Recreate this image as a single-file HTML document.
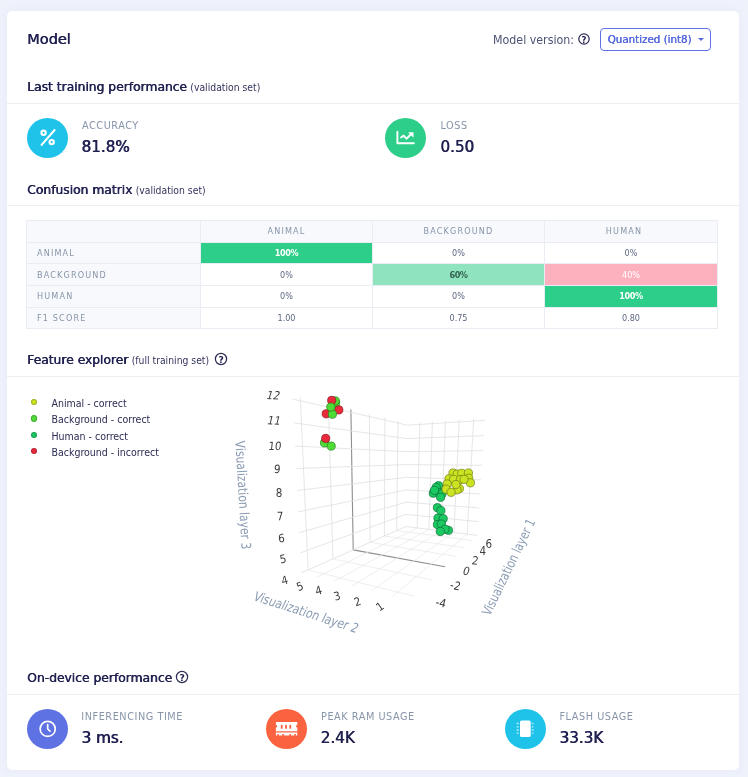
<!DOCTYPE html>
<html><head><meta charset="utf-8"><title>Model</title>
<style>
html,body{margin:0;padding:0;}
body{width:748px;height:777px;background:#eff2fb;font-family:"DejaVu Sans Condensed","Liberation Sans",sans-serif;color:#1f1f50;position:relative;overflow:hidden;}
.card{position:absolute;left:7px;top:11px;width:732px;height:759px;background:#fff;border-radius:5px;box-shadow:0 0 8px rgba(136,152,200,.08);}
.abs{position:absolute;white-space:nowrap;}
.sb{font-family:"DejaVu Sans","Liberation Sans",sans-serif;text-shadow:.55px 0 0 currentColor;}
.h1{font-size:14.2px;line-height:20px;}
.h2{}
.h2 small{font-size:10.3px;color:#33335c;}
.hr{position:absolute;left:7px;width:732px;height:1px;background:#eceef4;}
.circ{position:absolute;width:41.3px;height:40.4px;border-radius:50%;}
.lbl{color:#8795a9;letter-spacing:.55px;}
.val{font-family:"DejaVu Sans","Liberation Sans",sans-serif;text-shadow:.6px 0 0 currentColor;}
table{position:absolute;left:26px;top:220px;width:692px;border-collapse:collapse;table-layout:fixed;}
td,th{border:1px solid #e9ecf2;height:20.66px;padding:0;font-size:9px;line-height:12px;text-align:center;color:#5d6783;font-weight:normal;}
th,td.rh{background:#f7f9fc;color:#8795a9;letter-spacing:1.15px;}
td.rh{text-align:left;padding-left:10px;}
.leg{font-size:10.5px;line-height:14px;color:#2c2c54;}
.dot{position:absolute;width:4.3px;height:4.3px;border-radius:50%;border:.9px solid rgba(0,0,0,.22);background-clip:border-box;}
svg text{font-family:"DejaVu Sans Condensed","Liberation Sans",sans-serif;}
svg text.tk{font-size:11.5px;fill:#3d3d3d;}
svg .g{stroke:#e1e1e1;stroke-width:.85;}
svg .f{stroke:#ebebeb;stroke-width:.85;}
svg .z{stroke:#8e8e8e;stroke-width:1.1;}
svg .ma{fill:#cbe322;stroke:#6f7d10;stroke-width:.7;}
svg .mb{fill:#4fdc36;stroke:#27801a;stroke-width:.7;}
svg .mh{fill:#1bc862;stroke:#0b6e33;stroke-width:.7;}
svg .mr{fill:#ea2a3c;stroke:#86121e;stroke-width:.7;}
svg text.at{font-size:13.3px;fill:#8a9bb3;}
</style></head><body>
<div class="card"></div>

<div class="abs sb" style="left:27px;top:31px;font-size:14.5px;line-height:normal;">Model</div>
<div class="abs " style="left:493px;top:33px;font-size:12.3px;line-height:normal;color:#4d5275;">Model version:</div>
<svg class="abs" style="left:576.0px;top:31.200000000000003px" width="16" height="16" viewBox="-8 -8 16 16"><circle cx="0" cy="0" r="5.20" fill="none" stroke="#2c2c56" stroke-width="1.25"/><text x="0.1" y="3.87" text-anchor="middle" font-size="8.6" font-weight="bold" fill="#1f1f50" style="font-family:'DejaVu Sans','Liberation Sans',sans-serif">?</text></svg>
<div class="abs" style="left:599.6px;top:28px;width:109px;height:21px;border:1px solid #6173e3;border-radius:4px;"></div>
<div class="abs sb" style="left:607.5px;top:33px;font-size:10.3px;line-height:normal;color:#5468de;text-shadow:.4px 0 0 currentColor;">Quantized (int8)</div>
<div class="abs" style="left:698.2px;top:37.6px;width:0;height:0;border-left:3px solid transparent;border-right:3px solid transparent;border-top:3.4px solid #5468de;"></div>

<div class="abs h2" style="left:27px;top:80px;font-size:12.3px;line-height:normal;"><span class="sb">Last training performance</span> <small>(validation set)</small></div>
<div class="hr" style="top:103px;"></div>

<div class="circ" style="left:26.6px;top:117.6px;background:#1fc3ea;"></div>
<svg class="abs" style="left:26.7px;top:117.3px" width="41" height="41" viewBox="26.7 117.3 41 41" fill="none" stroke="#fff" stroke-width="2.1" stroke-linecap="round">
<circle cx="43.3" cy="133.1" r="2.15"/><circle cx="51.4" cy="142.4" r="2.15"/><line x1="41.3" y1="145.2" x2="54.3" y2="130.3"/>
</svg>
<div class="abs lbl" style="left:82px;top:119px;font-size:10.8px;line-height:normal;">ACCURACY</div>
<div class="abs val" style="left:81.3px;top:138px;font-size:15.2px;line-height:normal;">81.8%</div>

<div class="circ" style="left:385.1px;top:117.6px;background:#2dce89;"></div>
<svg class="abs" style="left:385.2px;top:117.3px" width="41" height="41" viewBox="385.2 117.3 41 41" fill="none" stroke="#fff" stroke-width="1.9" stroke-linecap="round" stroke-linejoin="round">
<path d="M397.6 132V143.6H414"/><path d="M401.2 137.8L403.9 135.9L406.6 139L411.5 134.3"/><path d="M409.2 132.9H413.4V137.1Z" fill="#fff" stroke-width=".6"/>
</svg>
<div class="abs lbl" style="left:440.5px;top:119px;font-size:10.8px;line-height:normal;">LOSS</div>
<div class="abs val" style="left:440.2px;top:138px;font-size:15.2px;line-height:normal;">0.50</div>

<div class="abs h2" style="left:27px;top:183px;font-size:12.3px;line-height:normal;"><span class="sb">Confusion matrix</span> <small>(validation set)</small></div>
<div class="hr" style="top:205px;"></div>

<table>
<tr><th style="width:173px"></th><th style="width:171px">ANIMAL</th><th style="width:171px">BACKGROUND</th><th style="padding-right:14px;">HUMAN</th></tr>
<tr><td class="rh">ANIMAL</td><td style="background:#2dce89;color:#fff;font-weight:bold;letter-spacing:-.4px;">100%</td><td>0%</td><td>0%</td></tr>
<tr><td class="rh">BACKGROUND</td><td>0%</td><td style="background:#8fe3bd;color:#35614f;font-weight:bold;letter-spacing:-.4px;">60%</td><td style="background:#fdb1bf;color:#fff;">40%</td></tr>
<tr><td class="rh">HUMAN</td><td>0%</td><td>0%</td><td style="background:#2dce89;color:#fff;font-weight:bold;letter-spacing:-.4px;">100%</td></tr>
<tr><td class="rh">F1 SCORE</td><td>1.00</td><td>0.75</td><td>0.80</td></tr>
</table>

<div class="abs h2" style="left:27px;top:353px;font-size:12.3px;line-height:normal;"><span class="sb">Feature explorer</span> <small>(full training set)</small></div>
<svg class="abs" style="left:212.85px;top:350.6px" width="16" height="16" viewBox="-8 -8 16 16"><circle cx="0" cy="0" r="5.60" fill="none" stroke="#2c2c56" stroke-width="1.25"/><text x="0.1" y="4.14" text-anchor="middle" font-size="9.2" font-weight="bold" fill="#1f1f50" style="font-family:'DejaVu Sans','Liberation Sans',sans-serif">?</text></svg>
<div class="hr" style="top:376px;"></div>

<div class="dot" style="left:30.95px;top:399.10px;background:#cbe322;"></div><div class="abs leg" style="left:51.5px;top:396px;">Animal - correct</div>
<div class="dot" style="left:30.95px;top:415.45px;background:#4fdc36;"></div><div class="abs leg" style="left:51.5px;top:412.2px;">Background - correct</div>
<div class="dot" style="left:30.95px;top:431.80px;background:#1bc862;"></div><div class="abs leg" style="left:51.5px;top:428.5px;">Human - correct</div>
<div class="dot" style="left:30.95px;top:448.10px;background:#ea2a3c;"></div><div class="abs leg" style="left:51.5px;top:444.8px;">Background - incorrect</div>

<svg class="abs" style="left:0;top:0;" width="748" height="777" viewBox="0 0 748 777">
<line class="g" x1="308.1" y1="569.9" x2="300.3" y2="397.3"/>
<line class="g" x1="332.9" y1="558.9" x2="328.4" y2="404.1"/>
<line class="z" x1="353.2" y1="549.9" x2="350.9" y2="409.5"/>
<line class="g" x1="370.1" y1="542.3" x2="369.4" y2="414.0"/>
<line class="g" x1="384.4" y1="536.0" x2="384.9" y2="417.8"/>
<line class="g" x1="396.7" y1="530.5" x2="398.0" y2="420.9"/>
<line class="g" x1="300.3" y1="552.9" x2="405.9" y2="514.4"/>
<line class="g" x1="299.3" y1="532.6" x2="406.1" y2="502.2"/>
<line class="g" x1="298.2" y1="511.8" x2="406.4" y2="489.9"/>
<line class="g" x1="297.2" y1="490.5" x2="406.6" y2="477.3"/>
<line class="g" x1="296.1" y1="468.5" x2="406.8" y2="464.6"/>
<line class="g" x1="295.0" y1="446.0" x2="407.0" y2="451.7"/>
<line class="g" x1="293.8" y1="422.8" x2="407.2" y2="438.6"/>
<line class="g" x1="292.6" y1="399.0" x2="407.5" y2="425.2"/>
<line class="g" x1="467.2" y1="534.1" x2="473.7" y2="418.8"/>
<line class="g" x1="453.9" y1="532.4" x2="459.3" y2="419.7"/>
<line class="g" x1="441.1" y1="530.9" x2="445.5" y2="420.7"/>
<line class="g" x1="428.9" y1="529.4" x2="432.4" y2="421.5"/>
<line class="g" x1="417.2" y1="527.9" x2="419.8" y2="422.4"/>
<line class="g" x1="478.6" y1="521.7" x2="405.9" y2="514.4"/>
<line class="g" x1="479.4" y1="508.0" x2="406.1" y2="502.2"/>
<line class="g" x1="480.3" y1="494.0" x2="406.4" y2="489.9"/>
<line class="g" x1="481.2" y1="479.8" x2="406.6" y2="477.3"/>
<line class="g" x1="482.1" y1="465.3" x2="406.8" y2="464.6"/>
<line class="g" x1="483.0" y1="450.6" x2="407.0" y2="451.7"/>
<line class="g" x1="484.0" y1="435.6" x2="407.2" y2="438.6"/>
<line class="g" x1="484.9" y1="420.3" x2="407.5" y2="425.2"/>
<line class="f" x1="414.4" y1="596.3" x2="308.1" y2="569.9"/>
<line class="f" x1="431.5" y1="579.8" x2="332.9" y2="558.9"/>
<line class="z" x1="445.0" y1="566.8" x2="353.2" y2="549.9"/>
<line class="f" x1="455.9" y1="556.4" x2="370.1" y2="542.3"/>
<line class="f" x1="464.8" y1="547.8" x2="384.4" y2="536.0"/>
<line class="f" x1="472.3" y1="540.6" x2="396.7" y2="530.5"/>
<line class="f" x1="392.4" y1="596.6" x2="467.2" y2="534.1"/>
<line class="f" x1="371.3" y1="591.1" x2="453.9" y2="532.4"/>
<line class="f" x1="351.9" y1="586.1" x2="441.1" y2="530.9"/>
<line class="f" x1="333.9" y1="581.4" x2="428.9" y2="529.4"/>
<line class="f" x1="317.2" y1="577.1" x2="417.2" y2="527.9"/>
<line class="g" x1="301.3" y1="572.9" x2="405.7" y2="526.5"/>
<line class="g" x1="405.7" y1="526.5" x2="477.7" y2="535.4"/>
<circle class="mb" cx="335.6" cy="402.9" r="4.1"/>
<circle class="mb" cx="335.3" cy="400.9" r="4.1"/>
<circle class="mr" cx="331.7" cy="400.4" r="4.1"/>
<circle class="mr" cx="338.8" cy="409.9" r="4.1"/>
<circle class="mr" cx="326.2" cy="413.8" r="4.1"/>
<circle class="mb" cx="332.4" cy="414.2" r="4.1"/>
<circle class="mb" cx="330.8" cy="407.0" r="4.1"/>
<circle class="mb" cx="324.5" cy="442.9" r="4.1"/>
<circle class="mr" cx="325.7" cy="438.4" r="4.1"/>
<circle class="mb" cx="331.2" cy="446.1" r="4.1"/>
<circle class="mh" cx="438.5" cy="485.7" r="4.1"/>
<circle class="mh" cx="436.2" cy="487.4" r="4.1"/>
<circle class="mh" cx="433.3" cy="493.2" r="4.1"/>
<circle class="mh" cx="439.1" cy="492.7" r="4.1"/>
<circle class="mh" cx="442.0" cy="493.8" r="4.1"/>
<circle class="mh" cx="440.6" cy="497.3" r="4.1"/>
<circle class="mh" cx="434.5" cy="490.3" r="4.1"/>
<circle class="ma" cx="453.0" cy="473.0" r="4.1"/>
<circle class="ma" cx="457.1" cy="474.1" r="4.1"/>
<circle class="ma" cx="461.7" cy="473.3" r="4.1"/>
<circle class="ma" cx="468.4" cy="473.0" r="4.1"/>
<circle class="ma" cx="449.0" cy="478.8" r="4.1"/>
<circle class="ma" cx="468.7" cy="478.2" r="4.1"/>
<circle class="ma" cx="470.4" cy="482.8" r="4.1"/>
<circle class="ma" cx="453.6" cy="479.3" r="4.1"/>
<circle class="ma" cx="447.2" cy="484.0" r="4.1"/>
<circle class="ma" cx="446.1" cy="489.2" r="4.1"/>
<circle class="ma" cx="459.4" cy="488.6" r="4.1"/>
<circle class="ma" cx="457.1" cy="489.8" r="4.1"/>
<circle class="ma" cx="460.5" cy="479.5" r="4.1"/>
<circle class="ma" cx="455.9" cy="484.5" r="4.1"/>
<circle class="ma" cx="451.1" cy="492.3" r="4.1"/>
<circle class="ma" cx="464.0" cy="479.3" r="4.1"/>
<circle class="mh" cx="437.4" cy="507.7" r="4.1"/>
<circle class="mh" cx="440.9" cy="510.6" r="4.1"/>
<circle class="mh" cx="438.0" cy="518.2" r="4.1"/>
<circle class="mh" cx="443.2" cy="518.7" r="4.1"/>
<circle class="mh" cx="437.4" cy="524.5" r="4.1"/>
<circle class="mh" cx="441.4" cy="524.0" r="4.1"/>
<circle class="mh" cx="448.4" cy="530.3" r="4.1"/>
<circle class="mh" cx="445.0" cy="529.2" r="4.1"/>
<circle class="mh" cx="440.3" cy="531.5" r="4.1"/>
<text class="tk" transform="translate(273.4,395.3) rotate(3) skewX(-14)" text-anchor="middle" y="4.1">12</text>
<text class="tk" transform="translate(274.2,420.5) rotate(2) skewX(-12)" text-anchor="middle" y="4.1">11</text>
<text class="tk" transform="translate(274.9,445.8) rotate(0) skewX(-6)" text-anchor="middle" y="4.1">10</text>
<text class="tk" transform="translate(277.3,469.2) rotate(0) skewX(-3)" text-anchor="middle" y="4.1">9</text>
<text class="tk" transform="translate(279,492.7) rotate(0) skewX(0)" text-anchor="middle" y="4.1">8</text>
<text class="tk" transform="translate(280.2,516) rotate(-2) skewX(0)" text-anchor="middle" y="4.1">7</text>
<text class="tk" transform="translate(281.4,538) rotate(-5) skewX(0)" text-anchor="middle" y="4.1">6</text>
<text class="tk" transform="translate(283.1,559) rotate(-10) skewX(0)" text-anchor="middle" y="4.1">5</text>
<text class="tk" transform="translate(284.5,580.1) rotate(-15) skewX(0)" text-anchor="middle" y="4.1">4</text>
<text class="tk" transform="translate(299.9,586.2) rotate(-20) skewX(0)" text-anchor="middle" y="4.1">5</text>
<text class="tk" transform="translate(318.6,590.3) rotate(-16) skewX(0)" text-anchor="middle" y="4.1">4</text>
<text class="tk" transform="translate(337,596) rotate(-16) skewX(0)" text-anchor="middle" y="4.1">3</text>
<text class="tk" transform="translate(357.5,601.6) rotate(-20) skewX(0)" text-anchor="middle" y="4.1">2</text>
<text class="tk" transform="translate(379.8,606.6) rotate(-35) skewX(0)" text-anchor="middle" y="4.1">1</text>
<text class="tk" transform="translate(441,602.7) rotate(10) skewX(-5)" text-anchor="middle" y="4.1">-4</text>
<text class="tk" transform="translate(455.5,585.4) rotate(10) skewX(-5)" text-anchor="middle" y="4.1">-2</text>
<text class="tk" transform="translate(466.4,571) rotate(8) skewX(-8)" text-anchor="middle" y="4.1">0</text>
<text class="tk" transform="translate(475.2,560.5) rotate(5) skewX(-5)" text-anchor="middle" y="4.1">2</text>
<text class="tk" transform="translate(482.8,551.2) rotate(0) skewX(0)" text-anchor="middle" y="4.1">4</text>
<text class="tk" transform="translate(488.9,543.7) rotate(0) skewX(0)" text-anchor="middle" y="4.1">6</text>
<text class="at" transform="translate(238.5,495.3) rotate(86.7) scale(.9,1)" text-anchor="middle">Visualization layer 3</text>
<text class="at" transform="translate(304.2,616.5) rotate(17.8) skewX(-8) scale(.9,1)" text-anchor="middle">Visualization layer 2</text>
<text class="at" transform="translate(512.8,569) rotate(-64.4) scale(.875,1)" text-anchor="middle">Visualization layer 1</text>
</svg>

<div class="abs h2" style="left:27px;top:671px;font-size:12.3px;line-height:normal;"><span class="sb">On-device performance</span></div>
<svg class="abs" style="left:174.25px;top:669.0px" width="16" height="16" viewBox="-8 -8 16 16"><circle cx="0" cy="0" r="5.60" fill="none" stroke="#2c2c56" stroke-width="1.25"/><text x="0.1" y="4.14" text-anchor="middle" font-size="9.2" font-weight="bold" fill="#1f1f50" style="font-family:'DejaVu Sans','Liberation Sans',sans-serif">?</text></svg>
<div class="hr" style="top:693.5px;"></div>

<div class="circ" style="left:26.6px;top:708.7px;background:#5e72e4;"></div>
<svg class="abs" style="left:26.7px;top:708.3px" width="41" height="41" viewBox="26.7 708.3 41 41" fill="none" stroke="#fff" stroke-width="1.7" stroke-linecap="round" stroke-linejoin="round">
<circle cx="47.4" cy="729.2" r="7.55"/><path d="M47.4 724.8V729.3L49.7 731.5"/>
</svg>
<div class="abs lbl" style="left:81.3px;top:710px;font-size:10.8px;line-height:normal;">INFERENCING TIME</div>
<div class="abs val" style="left:81.3px;top:729px;font-size:15.2px;line-height:normal;">3 ms.</div>

<div class="circ" style="left:265.9px;top:708.7px;background:#fb6340;"></div>
<svg class="abs" style="left:266px;top:708.3px" width="41" height="41" viewBox="266 708.3 41 41">
<path fill="#fff" d="M275.9 722.4H297.3V725.2A1.3 1.3 0 0 0 297.3 727.8V731.5H275.9V727.8A1.3 1.3 0 0 0 275.9 725.2Z"/>
<rect x="280.8" y="725.2" width="1.8" height="3.8" fill="#fb6340"/><rect x="285.1" y="725.2" width="1.8" height="3.8" fill="#fb6340"/><rect x="289.4" y="725.2" width="1.8" height="3.8" fill="#fb6340"/>
<path fill="#fff" d="M275.9 732.7H297.3V735.7H295.9V734.2H294.3V735.7H290.9V734.2H289.3V735.7H283.9V734.2H282.3V735.7H278.9V734.2H277.3V735.7H275.9Z"/>
</svg>
<div class="abs lbl" style="left:321px;top:710px;font-size:10.8px;line-height:normal;">PEAK RAM USAGE</div>
<div class="abs val" style="left:320.5px;top:729px;font-size:15.2px;line-height:normal;">2.4K</div>

<div class="circ" style="left:505.2px;top:708.7px;background:#1fc3ea;"></div>
<svg class="abs" style="left:505.3px;top:708.3px" width="41" height="41" viewBox="505.3 708.3 41 41">
<rect x="520.3" y="720.7" width="10.7" height="16.6" rx="1.6" fill="#fff"/>
<g stroke="#fff" stroke-opacity=".65" stroke-width="1.3">
<path d="M516.9 723.8H519.1M516.9 727.1H519.1M516.9 730.3H519.1M516.9 733.4H519.1M532 723.8H533.8M532 727.1H533.8M532 730.3H533.8M532 733.4H533.8"/></g>
</svg>
<div class="abs lbl" style="left:559.4px;top:710px;font-size:10.8px;line-height:normal;">FLASH USAGE</div>
<div class="abs val" style="left:559.3px;top:729px;font-size:15.2px;line-height:normal;">33.3K</div>
</body></html>
